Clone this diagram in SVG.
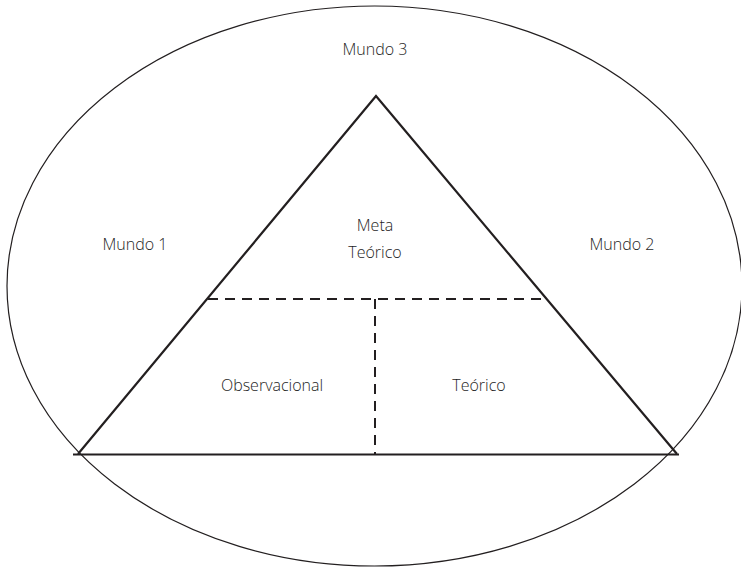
<svg xmlns="http://www.w3.org/2000/svg" width="741" height="568" viewBox="0 0 741 568">
<style>
text{font-family:"Open Sans","Liberation Sans",sans-serif;font-size:16px;font-weight:300;fill:#1e1e1e;text-anchor:middle}
.tri{fill:none;stroke:#231f20;stroke-width:2.2}
.dash{fill:none;stroke:#231f20;stroke-width:2;stroke-dasharray:10,7}
</style>
<rect width="741" height="568" fill="#fff"/>
<g id="mundo-ellipse"><ellipse cx="374.5" cy="286" rx="367.5" ry="280" fill="none" stroke="#231f20" stroke-width="1.2"/></g>
<g id="triangle">
<polyline class="tri" points="78,454 376,96 677,454"/>
<line class="tri" x1="73" y1="454.5" x2="679" y2="454.5"/>
</g>
<g id="connectors">
<line class="dash" x1="208" y1="299" x2="545" y2="299"/>
<line class="dash" x1="375" y1="299" x2="375" y2="454"/>
</g>
<g id="mundo3"><text x="375" y="55">Mundo 3</text></g>
<g id="mundo1"><text x="135" y="250">Mundo 1</text></g>
<g id="mundo2"><text x="622" y="250">Mundo 2</text></g>
<g id="meta"><text x="375" y="231">Meta</text><text x="375" y="258">Teórico</text></g>
<g id="observacional"><text x="272" y="391">Observacional</text></g>
<g id="teorico"><text x="479" y="391">Teórico</text></g>
</svg>
